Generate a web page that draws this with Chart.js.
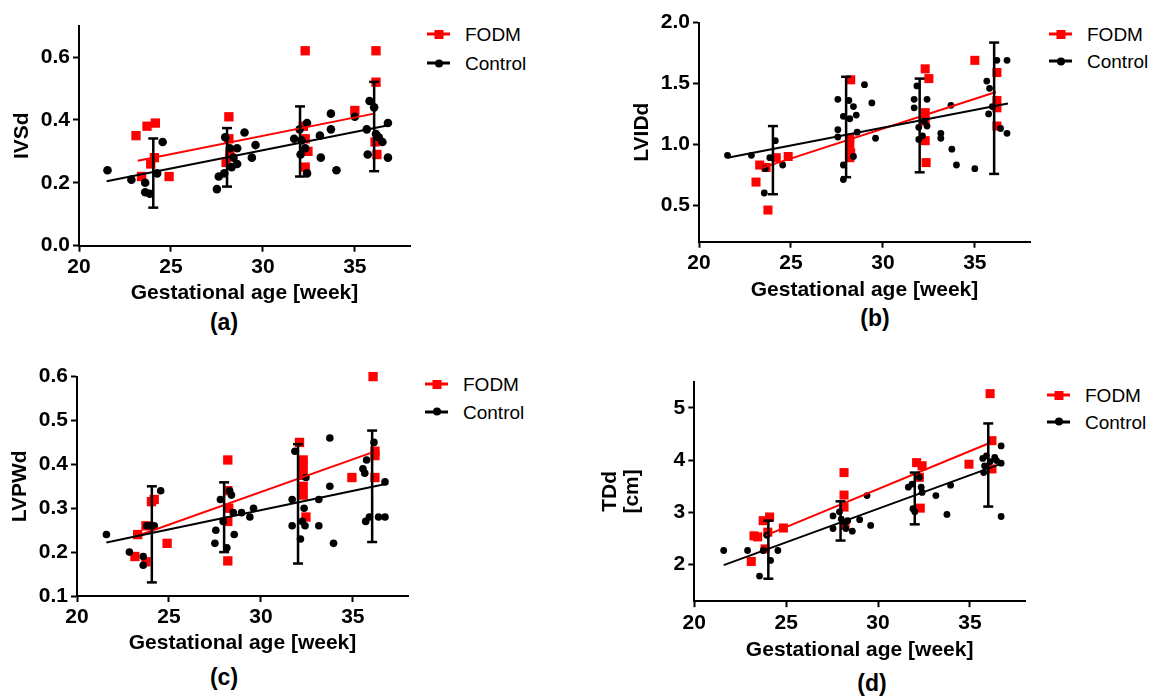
<!DOCTYPE html>
<html>
<head>
<meta charset="utf-8">
<script src="https://cdn.jsdelivr.net/npm/chart.js@4.4.0/dist/chart.umd.min.js"></script>
<style>
  body { margin: 0; background: #fff; width: 1160px; height: 698px; position: relative; overflow: hidden;
         font-family: "Liberation Sans", Arial, sans-serif; }
  canvas { position: absolute; }
  .cap { position: absolute; font-weight: bold; font-size: 23px; transform: translate(-50%, -50%); }
  .leg { position: absolute; font-size: 19px; line-height: 1; transform: translateY(-50%); white-space: nowrap; }
  .sym { position: absolute; height: 3px; width: 23px; transform: translateY(-50%); }
  .sym i { position: absolute; left: 50%; top: 50%; transform: translate(-50%, -50%); }
</style>
</head>
<body>
<script>
// shared x axis
var xTickLabels = ['20', '25', '30', '35'];
var seriesNames = ['FODM', 'Control'];

// (a) IVSd
var yTickLabelsA = ['0.0', '0.2', '0.4', '0.6'];
var fodmA = [[23.1,0.35],[23.7,0.38],[24.15,0.39],[23.4,0.22],[23.9,0.26],[24.1,0.28],[24.9,0.22],
  [28.15,0.41],[28.15,0.34],[28.2,0.29],[28.0,0.265],
  [32.3,0.62],[32.2,0.38],[32.3,0.34],[32.45,0.30],[32.3,0.25],
  [35.0,0.43],
  [36.15,0.62],[36.15,0.52],[36.1,0.33],[36.2,0.29]];
var ctrlA = [[21.55,0.24],[22.85,0.21],[23.6,0.20],[23.6,0.17],[23.85,0.165],[24.25,0.23],[24.55,0.33],
  [27.5,0.18],[27.6,0.22],[27.9,0.23],[27.95,0.345],[28.2,0.31],[28.4,0.28],[28.6,0.26],[28.3,0.25],[28.6,0.31],[29.0,0.36],[29.4,0.28],[29.6,0.32],
  [31.7,0.34],[32.0,0.37],[32.1,0.335],[32.3,0.31],[32.05,0.29],[32.4,0.39],[32.4,0.23],[33.1,0.35],[33.15,0.28],[33.7,0.42],[33.7,0.37],[34.0,0.24],
  [35.0,0.41],[35.8,0.46],[35.65,0.37],[36.05,0.44],[36.15,0.355],[35.7,0.29],[36.3,0.345],[36.5,0.33],[36.8,0.39],[36.8,0.28]];
var fodmFitA = [[23.2,0.27],[36.05,0.42]];
var ctrlFitA = [[21.5,0.205],[36.9,0.384]];
var errA = [[24.04,0.121,0.341],[28.05,0.188,0.374],[32.02,0.22,0.443],[36.05,0.237,0.521]];

// (b) LVIDd
var yTickLabelsB = ['0.5', '1.0', '1.5', '2.0'];
var fodmB = [[23.1,0.69],[23.3,0.83],[23.65,0.81],[23.75,0.46],[24.2,0.89],[24.85,0.90],
  [28.25,1.53],[28.2,1.05],[28.2,1.0],[28.25,0.93],[28.2,0.89],
  [32.3,1.62],[32.5,1.54],[32.3,1.26],[32.3,1.19],[32.3,1.03],[32.35,0.85],
  [35.0,1.69],
  [36.2,1.59],[36.2,1.36],[36.2,1.30],[36.2,1.15]];
var ctrlB = [[21.55,0.91],[22.85,0.91],[23.55,0.60],[23.6,0.80],[23.85,0.89],[24.15,1.03],[24.55,0.83],
  [27.55,1.37],[27.55,1.06],[27.55,1.12],[27.85,1.23],[27.85,0.83],[27.85,0.71],[28.15,1.36],[28.2,1.21],[28.4,1.31],[28.55,1.24],[28.4,0.90],[28.6,1.10],[29.0,1.49],[29.4,1.34],[29.6,1.05],
  [31.7,1.37],[31.7,1.30],[31.85,1.48],[31.95,1.14],[31.95,1.04],[32.15,1.07],[32.4,1.37],[32.4,1.15],[32.25,1.19],[33.15,1.09],[33.15,1.05],[33.7,1.32],[33.75,0.96],[34.0,0.83],
  [35.0,0.80],[35.65,1.52],[35.8,1.46],[35.75,1.25],[35.95,1.31],[36.2,1.69],[36.75,1.69],[36.4,1.13],[36.75,1.09]];
var fodmFitB = [[23.3,0.80],[36.15,1.43]];
var ctrlFitB = [[21.55,0.89],[36.8,1.335]];
var errB = [[24.02,0.59,1.15],[28.0,0.73,1.555],[32.0,0.77,1.54],[36.05,0.757,1.836]];

// (c) LVPWd
var yTickLabelsC = ['0.1', '0.2', '0.3', '0.4', '0.5', '0.6'];
var fodmC = [[23.15,0.19],[23.3,0.24],[23.75,0.26],[23.75,0.178],[24.05,0.315],[24.2,0.32],[24.9,0.22],
  [28.2,0.41],[28.2,0.34],[28.25,0.30],[28.2,0.27],[28.2,0.18],
  [32.1,0.45],[32.3,0.41],[32.3,0.395],[32.3,0.375],[32.3,0.35],[32.3,0.33],[32.45,0.28],
  [34.95,0.37],
  [36.1,0.60],[36.2,0.43],[36.2,0.42],[36.2,0.37]];
var ctrlC = [[21.6,0.24],[22.85,0.20],[23.6,0.19],[23.6,0.17],[23.8,0.26],[24.0,0.26],[24.2,0.26],[24.55,0.34],
  [27.5,0.22],[27.55,0.25],[27.8,0.32],[27.95,0.27],[28.15,0.21],[28.3,0.34],[28.4,0.33],[28.5,0.29],[28.55,0.24],[28.95,0.29],[29.4,0.28],[29.6,0.30],
  [31.7,0.32],[31.7,0.26],[31.85,0.43],[32.15,0.23],[32.25,0.27],[32.35,0.30],[32.4,0.26],[32.45,0.37],[33.15,0.32],[33.15,0.26],[33.75,0.35],[33.75,0.46],[33.95,0.22],
  [35.55,0.39],[35.65,0.38],[35.75,0.41],[35.7,0.27],[35.9,0.28],[36.15,0.45],[36.4,0.28],[36.75,0.28],[36.75,0.36]];
var fodmFitC = [[23.15,0.235],[36.1,0.428]];
var ctrlFitC = [[21.6,0.222],[36.85,0.356]];
var errC = [[24.07,0.131,0.35],[28.0,0.2,0.359],[32.02,0.174,0.446],[36.05,0.223,0.477]];

// (d) TDd
var yTickLabelsD = ['2', '3', '4', '5'];
var fodmD = [[23.1,2.06],[23.25,2.55],[23.45,2.53],[23.75,2.84],[24.1,2.91],[23.85,2.30],[24.0,2.62],[24.85,2.70],
  [28.15,3.76],[28.15,3.33],[28.15,3.10],[28.2,2.75],
  [32.1,3.95],[32.4,3.89],[32.25,3.67],[32.3,3.08],
  [34.95,3.92],
  [36.1,5.27],[36.2,4.37],[36.2,3.83]];
var ctrlD = [[21.6,2.27],[22.9,2.27],[23.55,1.78],[23.75,2.27],[23.95,2.56],[24.15,2.08],[24.55,2.27],
  [27.55,2.93],[27.55,2.69],[27.9,3.01],[28.0,2.87],[28.2,2.81],[28.35,2.84],[28.25,2.69],[28.6,2.64],[29.0,2.86],[29.4,3.32],[29.6,2.75],
  [31.65,3.48],[31.85,3.54],[31.9,3.07],[32.0,3.01],[32.25,3.67],[32.35,3.48],[32.4,3.38],[33.15,3.32],[33.75,2.96],[33.95,3.52],
  [35.7,4.03],[35.9,4.08],[35.8,3.89],[36.1,3.97],[36.35,4.05],[36.45,3.99],[36.7,3.94],[36.7,4.27],[36.7,2.92],[35.75,3.76]];
var fodmFitD = [[23.9,2.56],[36.1,4.33]];
var ctrlFitD = [[21.6,1.99],[36.8,3.94]];
var errD = [[24.03,1.73,2.84],[27.96,2.46,3.21],[32.0,2.77,3.76],[36.0,3.11,4.70]];

var RED = '#ff0000', BLACK = '#000000';
Chart.defaults.font.family = '"Liberation Sans", Arial, sans-serif';
Chart.defaults.color = '#000';

var panels = [
  { cap: '(a)', yTitle: 'IVSd', yMin: 0, yMax: 0.7, yTicks: yTickLabelsA,
    fodm: fodmA, ctrl: ctrlA, fodmFit: fodmFitA, ctrlFit: ctrlFitA, err: errA,
    area: { l: 79, t: 24, r: 410, b: 245.7 }, canvasLeft: 0, yTitleX: 21.7, xTitleY: 293,
    capPos: [224, 321.7], leg: { sx: 427, tx: 465, y1: 34, y2: 63 }, dot: 4.3, sq: 6.6 },
  { cap: '(b)', yTitle: 'LVIDd', yMin: 0.2, yMax: 2.0, yTicks: yTickLabelsB,
    fodm: fodmB, ctrl: ctrlB, fodmFit: fodmFitB, ctrlFit: ctrlFitB, err: errB,
    area: { l: 699, t: 21.7, r: 1030, b: 241.7 }, canvasLeft: 620, yTitleX: 641.7, xTitleY: 290,
    capPos: [875, 318], leg: { sx: 1049, tx: 1087, y1: 34, y2: 61 }, dot: 3.4, sq: 6.4 },
  { cap: '(c)', yTitle: 'LVPWd', yMin: 0.1, yMax: 0.6, yTicks: yTickLabelsC,
    fodm: fodmC, ctrl: ctrlC, fodmFit: fodmFitC, ctrlFit: ctrlFitC, err: errC,
    area: { l: 77, t: 375.7, r: 408, b: 596 }, canvasLeft: 0, yTitleX: 20, xTitleY: 643,
    capPos: [224, 676.7], leg: { sx: 425, tx: 463, y1: 384, y2: 411.7 }, dot: 3.8, sq: 6.6 },
  { cap: '(d)', yTitle: ['TDd', '[cm]'], yMin: 1.3, yMax: 5.5, yTicks: yTickLabelsD,
    fodm: fodmD, ctrl: ctrlD, fodmFit: fodmFitD, ctrlFit: ctrlFitD, err: errD,
    area: { l: 694.3, t: 380.5, r: 1025, b: 601.2 }, canvasLeft: 594, yTitleX: 610, xTitleY: 650,
    capPos: [872, 683], leg: { sx: 1047, tx: 1085, y1: 395, y2: 421.7 }, dot: 3.4, sq: 6.4 }
];

function pts(arr) { return arr.map(function (p) { return { x: p[0], y: p[1] }; }); }
function errPts(err) {
  var out = [];
  err.forEach(function (e) { out.push({ x: e[0], y: e[1] }, { x: e[0], y: e[2] }, { x: e[0], y: null }); });
  return out;
}

function addDiv(cls, html, left, top) {
  var d = document.createElement('div');
  d.className = cls;
  d.innerHTML = html;
  d.style.left = left + 'px';
  d.style.top = top + 'px';
  document.body.appendChild(d);
  return d;
}

function addLegend(leg) {
  var s1 = addDiv('sym', '<i style="width:9px;height:9px;background:' + RED + '"></i>', leg.sx, leg.y1);
  s1.style.background = RED;
  var s2 = addDiv('sym', '<i style="width:8px;height:8px;border-radius:50%;background:' + BLACK + '"></i>', leg.sx, leg.y2);
  s2.style.background = BLACK;
  addDiv('leg', seriesNames[0], leg.tx, leg.y1);
  addDiv('leg', seriesNames[1], leg.tx, leg.y2);
}

function makePanel(p) {
  var a = p.area;
  var xH = 62;
  var left = p.canvasLeft;
  var top = Math.floor(a.t) - 14;
  var width = Math.ceil(a.r) + 14 - left;
  var height = Math.ceil(a.b + xH) - top;
  var yW = a.l - left;
  var multi = Array.isArray(p.yTitle);
  var yLh = multi ? 22 : 25;
  var yPadTop = p.yTitleX - left - yLh / 2;
  var xPadBottom = (a.b + xH) - 12.6 - p.xTitleY;

  var cv = document.createElement('canvas');
  cv.width = width; cv.height = height;
  cv.style.left = left + 'px'; cv.style.top = top + 'px';
  cv.style.width = width + 'px'; cv.style.height = height + 'px';
  document.body.appendChild(cv);

  var tickFont = { size: 21, weight: 'bold' };
  new Chart(cv, {
    type: 'scatter',
    data: {
      datasets: [
        { label: 'err', data: errPts(p.err), showLine: true, spanGaps: false, borderColor: BLACK, borderWidth: 2.5,
          pointStyle: 'line', pointRadius: 5, pointBorderWidth: 2.5, pointBorderColor: BLACK, clip: false },
        { label: 'ctrlFit', data: pts(p.ctrlFit), showLine: true, borderColor: BLACK, borderWidth: 2, pointRadius: 0, clip: false },
        { label: 'fodmFit', data: pts(p.fodmFit), showLine: true, borderColor: RED, borderWidth: 2, pointRadius: 0, clip: false },
        { label: seriesNames[1], data: pts(p.ctrl), pointStyle: 'circle', pointRadius: p.dot, pointBorderWidth: 0,
          backgroundColor: BLACK, pointBackgroundColor: BLACK, clip: false },
        { label: seriesNames[0], data: pts(p.fodm), pointStyle: 'rect', pointRadius: p.sq, pointBorderWidth: 0,
          backgroundColor: RED, pointBackgroundColor: RED, clip: false }
      ]
    },
    options: {
      responsive: false,
      animation: false,
      devicePixelRatio: 1,
      events: [],
      layout: { padding: { left: 0, top: a.t - top, right: left + width - a.r, bottom: top + height - (a.b + xH) } },
      plugins: { legend: { display: false }, tooltip: { enabled: false } },
      scales: {
        x: {
          type: 'linear', min: 20, max: 38,
          afterBuildTicks: function (s) { s.ticks = xTickLabels.map(function (t) { return { value: parseFloat(t) }; }); },
          afterFit: function (s) { s.height = xH; },
          ticks: { font: tickFont, color: BLACK, padding: 3, maxRotation: 0,
                   callback: function (v, i) { return xTickLabels[i]; } },
          grid: { drawOnChartArea: false, drawTicks: true, tickLength: 6, tickWidth: 2, tickColor: BLACK, color: BLACK },
          border: { display: true, color: BLACK, width: 2 },
          title: { display: true, text: 'Gestational age [week]', color: BLACK,
                   font: { size: 21, weight: 'bold', lineHeight: 1.2 }, padding: { top: 0, bottom: xPadBottom } }
        },
        y: {
          type: 'linear', min: p.yMin, max: p.yMax,
          afterBuildTicks: function (s) { s.ticks = p.yTicks.map(function (t) { return { value: parseFloat(t) }; }); },
          afterFit: function (s) { s.width = yW; },
          ticks: { font: tickFont, color: BLACK, padding: 3,
                   callback: function (v, i) { return p.yTicks[i]; } },
          grid: { drawOnChartArea: false, drawTicks: true, tickLength: 6, tickWidth: 2, tickColor: BLACK, color: BLACK },
          border: { display: true, color: BLACK, width: 2 },
          title: { display: true, text: p.yTitle, color: BLACK,
                   font: { size: 21, weight: 'bold', lineHeight: multi ? 1.05 : 1.2 }, padding: { top: yPadTop, bottom: 0 } }
        }
      }
    }
  });

  addLegend(p.leg);
  addDiv('cap', p.cap, p.capPos[0], p.capPos[1]);
}

panels.forEach(makePanel);
</script>
</body>
</html>
